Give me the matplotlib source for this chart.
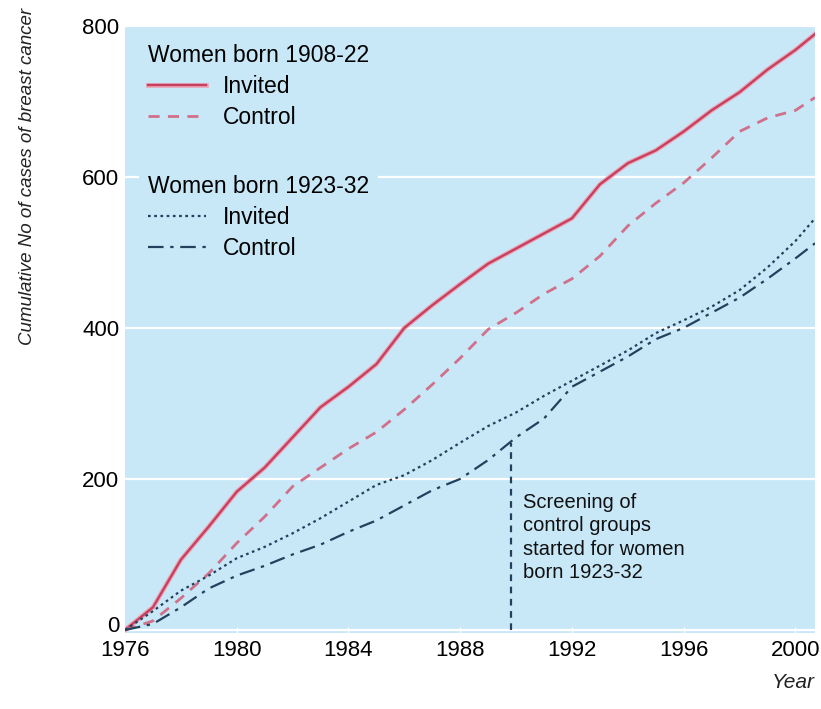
import matplotlib
matplotlib.use("Agg")
import matplotlib.pyplot as plt
import matplotlib.patheffects as pe
from matplotlib.transforms import ScaledTranslation

plt.rcParams['font.family'] = ['Liberation Sans', 'DejaVu Sans']

# cumulative breast cancer cases
years = [1976, 1977, 1978, 1979, 1980, 1981, 1982, 1983, 1984, 1985, 1986, 1987, 1988,
         1989, 1990, 1991, 1992, 1993, 1994, 1995, 1996, 1997, 1998, 1999, 2000, 2000.7]
invited_old = [0, 30, 93, 137, 183, 215, 255, 295, 322, 352, 400, 430, 458,
               485, 505, 525, 545, 590, 618, 635, 660, 688, 712, 742, 768, 789]
control_old = [0, 12, 42, 75, 115, 150, 190, 215, 240, 262, 292, 325, 360,
               398, 420, 445, 465, 495, 535, 565, 592, 625, 660, 678, 688, 705]
invited_young = [0, 25, 52, 72, 95, 110, 128, 148, 170, 192, 205, 225, 248,
                 270, 288, 310, 330, 350, 370, 393, 410, 428, 450, 480, 515, 545]
control_young = [0, 8, 30, 55, 72, 85, 100, 113, 130, 145, 165, 185, 200,
                 225, 255, 280, 322, 342, 362, 385, 400, 420, 440, 465, 492, 512]

screen_year = 1989.8
screen_cases = 248
xticks = [1976, 1980, 1984, 1988, 1992, 1996, 2000]
yticks = [0, 200, 400, 600, 800]

BG = '#c8e8f8'
RED = '#c8405f'
PINK = '#d0708a'
NAVY = '#23405c'

fig = plt.figure(figsize=(8.21, 7.09), dpi=100)
ax = fig.add_axes([125/821, 1 - 633/709, 690/821, 608/709])
ax.set_facecolor(BG)
for s in ax.spines.values():
    s.set_visible(False)

ax.set_xlim(1976, 2000.7)
ax.set_ylim(-4, 801)
ax.set_xticks(xticks)
ax.set_yticks(yticks)
ax.yaxis.grid(True, color='white', lw=1.6)
ax.set_axisbelow(True)
ax.tick_params(axis='y', length=0, pad=4, labelsize=16)
ax.tick_params(axis='x', direction='in', length=4, color='white', pad=5, labelsize=16)
# lift the "0" a little so it clears the first year label
zero_lbl = ax.get_yticklabels()[0]
zero_lbl.set_transform(zero_lbl.get_transform() + ScaledTranslation(0, 6/100, fig.dpi_scale_trans))

halo = [pe.Stroke(linewidth=3.4, foreground='#e9a7b8'), pe.Normal()]
l1, = ax.plot(years, invited_old, color=RED, lw=1.7, path_effects=halo)
l2, = ax.plot(years, control_old, color=PINK, lw=2.0, linestyle=(0, (4, 3)))
l3, = ax.plot(years, invited_young, color=NAVY, lw=1.6, linestyle=(0, (1.2, 1.6)))
l4, = ax.plot(years, control_young, color=NAVY, lw=1.6, linestyle=(0, (7, 3, 1.5, 3)))

# start of screening in the control groups
ax.plot([screen_year, screen_year], [0, screen_cases], color=NAVY, lw=1.6,
        linestyle=(0, (3, 2.5)))
ax.text(screen_year + 0.45, 182, "Screening of\ncontrol groups\nstarted for women\nborn 1923-32",
        fontsize=14.5, va='top', ha='left', linespacing=1.3, color='#111111')

leg_kw = dict(loc='upper left', fontsize=16.5, title_fontsize=16.5, alignment='left',
              handlelength=2.55, handletextpad=0.7, labelspacing=0.35, borderpad=0.4,
              facecolor=BG, edgecolor='none', framealpha=1, fancybox=False, borderaxespad=0)
leg1 = ax.legend([l1, l2], ['Invited', 'Control'], title='Women born 1908-22',
                 bbox_to_anchor=(0.02, 0.984), **leg_kw)
ax.add_artist(leg1)
leg2 = ax.legend([l3, l4], ['Invited', 'Control'], title='Women born 1923-32',
                 bbox_to_anchor=(0.02, 0.768), **leg_kw)

fig.text(28/821, 1 - 8/709, "Cumulative No of cases of breast cancer", rotation=90,
         va='top', ha='center', style='italic', fontsize=13.5, color='#222222')
fig.text(815/821, 1 - 683/709, "Year", va='center', ha='right', style='italic',
         fontsize=15, color='#222222')

fig.savefig('out.png', dpi=100, facecolor='white')
